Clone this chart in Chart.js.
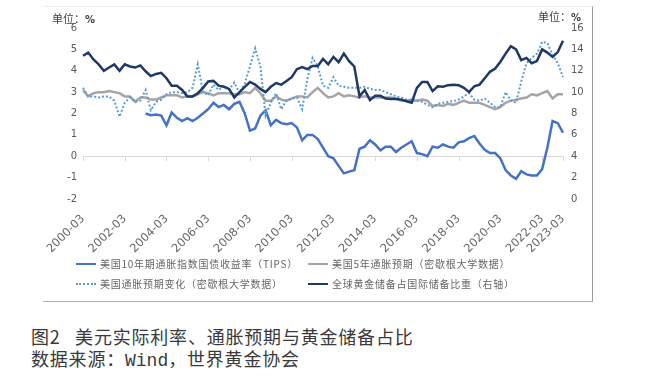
<!DOCTYPE html>
<html>
<head>
<meta charset="utf-8">
<script src="https://cdn.jsdelivr.net/npm/chart.js@4/dist/chart.umd.min.js"></script>
<style>
  html, body { margin: 0; padding: 0; background: #fff; }
  body { width: 646px; height: 383px; position: relative; overflow: hidden; font-family: "Noto Sans CJK SC", sans-serif; }
  #frame { position: absolute; left: 43px; top: 6px; width: 550px; height: 296px;
           border-top: 1px solid #ececec; border-right: 1px solid #9a9a9a; border-bottom: 1px solid #b0b0b0; box-sizing: border-box; }
  #c { position: absolute; left: 43px; top: 6px; }
  .unit { position: absolute; font-size: 11px; color: #404040; white-space: nowrap; }
  .unit b { font-family: "DejaVu Sans", sans-serif; font-weight: bold; font-size: 10px; }
  .lg { position: absolute; font-size: 10px; letter-spacing: 0.75px; color: #666; white-space: nowrap; line-height: 12px; }
  .sw { position: absolute; width: 20px; height: 0; }
  .cap { position: absolute; left: 31px; font-size: 18px; color: #3a3a3a; white-space: nowrap; letter-spacing: 0.8px; line-height: 22px; }
  .mono { font-family: "Liberation Mono", monospace; letter-spacing: 0; }
</style>
</head>
<body>
<div id="frame"></div>
<canvas id="c" width="550" height="296"></canvas>
<div class="unit" style="left:52px; top:10px;">单位：<b>%</b></div>
<div class="unit" style="left:538px; top:8px;">单位：<b>%</b></div>
<div id="legend"></div>
<div class="cap" style="top:325px;">图2&nbsp;&nbsp;&nbsp;美元实际利率、通胀预期与黄金储备占比</div>
<div class="cap" style="top:347px;">数据来源：<span class="mono">Wind</span>，世界黄金协会</div>
<script>
// ---- categories (quarter-end months, 2000-03 ... 2023-03) ----
const years = [2000,2001,2002,2003,2004,2005,2006,2007,2008,2009,2010,2011,2012,2013,2014,2015,2016,2017,2018,2019,2020,2021,2022,2023];
const months = ["03","06","09","12"];
const categories = [];
years.forEach(y => months.forEach(m => { if (!(y === 2023 && m !== "03")) categories.push(y + "-" + m); }));

// ---- series ----
const seriesNames = [
  "美国10年期通胀指数国债收益率（TIPS）",
  "美国5年通胀预期（密歇根大学数据）",
  "美国通胀预期变化（密歇根大学数据）",
  "全球黄金储备占国际储备比重（右轴）"
];

// US 10Y TIPS yield, % (left axis), starts 2003-03
const tips = [null,null,null,null,null,null,null,null,null,null,null,null,
  2.0,1.92,1.95,1.9,1.45,2.05,1.8,1.65,1.78,1.65,1.8,2.0,
  2.2,2.5,2.3,2.4,2.2,2.45,2.55,2.0,1.2,1.3,1.9,2.15,
  1.45,1.7,1.55,1.5,1.55,1.35,0.75,1.0,1.0,0.8,0.4,0.0,
  -0.1,-0.45,-0.8,-0.72,-0.65,0.35,0.45,0.75,0.55,0.28,0.45,0.45,
  0.2,0.4,0.55,0.7,0.15,0.1,0.0,0.45,0.4,0.55,0.45,0.4,
  0.65,0.7,0.85,0.95,0.6,0.3,0.15,0.15,-0.1,-0.65,-0.9,-1.05,
  -0.7,-0.85,-0.9,-0.9,-0.6,0.4,1.65,1.55,1.1];

// US 5Y inflation expectation (Michigan), % (left axis)
const infl5y = [3.1,2.8,2.95,3.0,3.0,3.05,3.0,2.95,2.8,2.8,2.55,2.75,
  2.75,2.65,2.65,2.75,2.85,2.85,2.85,2.75,2.8,2.8,2.9,3.0,
  2.95,2.85,2.95,2.95,2.95,2.9,2.9,3.0,2.95,3.2,2.95,2.6,
  2.6,2.8,2.65,2.6,2.7,2.8,2.8,2.75,3.0,3.2,2.95,2.75,
  2.8,2.95,2.8,2.85,2.8,2.75,2.8,2.75,2.75,2.75,2.75,2.75,
  2.7,2.6,2.6,2.65,2.6,2.65,2.6,2.35,2.4,2.35,2.45,2.4,
  2.5,2.6,2.5,2.5,2.5,2.4,2.3,2.2,2.3,2.5,2.6,2.65,
  2.7,2.75,2.9,2.85,2.95,3.05,2.7,2.9,2.9];

// US inflation expectation change (Michigan), % (left axis)
const inflChange = [3.2,2.8,2.8,2.75,2.8,2.8,2.6,1.85,2.5,2.75,2.55,2.6,
  3.1,2.15,2.55,2.65,2.9,3.0,3.0,2.95,3.0,3.2,4.3,3.0,
  2.85,3.35,3.1,3.3,3.1,3.45,2.95,3.4,4.2,5.05,4.2,1.9,
  2.5,2.95,2.2,2.6,2.7,2.75,2.2,3.6,4.6,4.2,3.3,3.2,
  3.7,3.3,3.25,3.2,3.2,3.2,3.25,3.15,3.1,3.1,3.0,2.9,
  2.8,2.75,2.65,2.6,2.6,2.55,2.4,2.3,2.45,2.5,2.55,2.58,
  2.65,2.8,2.95,2.65,2.6,2.7,2.5,2.3,2.3,3.0,2.6,2.5,
  3.5,4.35,4.6,4.8,5.35,5.3,4.75,4.35,3.7];

// Gold share of global reserves, % (right axis)
const goldShare = [13.4,13.7,13.05,12.6,12.0,12.3,12.6,12.0,12.6,12.4,12.3,12.5,
  11.95,11.5,11.7,11.8,11.3,10.6,10.6,10.2,9.6,9.6,9.9,10.4,
  11.0,11.05,10.6,10.5,10.3,9.5,10.0,10.5,10.95,10.7,10.3,10.0,
  10.5,10.85,10.7,11.05,11.4,12.15,12.35,12.15,12.45,12.45,13.1,12.6,
  13.3,12.8,13.6,12.9,12.4,9.6,10.2,9.25,9.65,9.65,9.4,9.35,
  9.35,9.3,9.15,9.0,10.4,10.95,10.95,10.1,10.55,10.5,10.65,10.7,
  10.65,10.4,10.0,10.55,10.7,11.3,11.9,12.2,12.85,13.6,14.3,14.0,
  13.0,13.2,12.7,12.9,14.0,13.7,13.3,13.75,14.8];

const leftTicks = { min: -2, max: 6, step: 1 };
const rightTicks = { min: 0, max: 16, step: 2 };
const labelEvery = 8;

const colors = ["#4472C4", "#A5A5A5", "#5B9BD5", "#1F3864"];

// ---- legend (HTML) ----
const legendPos = [[76, 258], [308, 258], [76, 278], [308, 278]];
const lgEl = document.getElementById("legend");
seriesNames.forEach((name, k) => {
  const [lx, ly] = legendPos[k];
  const sw = document.createElement("div");
  sw.className = "sw";
  sw.style.left = lx + "px";
  sw.style.top = (ly + 5) + "px";
  sw.style.borderTop = (k === 2 ? "2px dotted " : "2px solid ") + colors[k];
  lgEl.appendChild(sw);
  const t = document.createElement("div");
  t.className = "lg";
  t.style.left = (lx + 24) + "px";
  t.style.top = ly + "px";
  t.textContent = name;
  lgEl.appendChild(t);
});

const zeroTicks = {
  id: "zeroTicks",
  beforeDatasetsDraw(chart) {
    const { ctx, scales: { x, y } } = chart;
    const y0 = y.getPixelForValue(0);
    ctx.save();
    ctx.strokeStyle = "#D9D9D9";
    ctx.lineWidth = 1;
    categories.forEach((c, i) => {
      if (i % labelEvery === 0 || i === categories.length - 1) {
        const px = Math.round(x.getPixelForValue(i)) + 0.5;
        ctx.beginPath();
        ctx.moveTo(px, y0);
        ctx.lineTo(px, y0 + 5);
        ctx.stroke();
      }
    });
    ctx.restore();
  }
};

new Chart(document.getElementById("c"), {
  type: "line",
  data: {
    labels: categories,
    datasets: [
      { label: seriesNames[0], data: tips, yAxisID: "y", borderColor: colors[0], borderWidth: 2.5, order: 2 },
      { label: seriesNames[1], data: infl5y, yAxisID: "y", borderColor: colors[1], borderWidth: 2.5, order: 3 },
      { label: seriesNames[2], data: inflChange, yAxisID: "y", borderColor: colors[2], borderWidth: 2, borderDash: [2, 2], order: 1 },
      { label: seriesNames[3], data: goldShare, yAxisID: "y2", borderColor: colors[3], borderWidth: 2.5, order: 0 }
    ]
  },
  options: {
    responsive: false,
    animation: false,
    devicePixelRatio: 1,
    layout: { padding: { left: 0, right: 0, top: 22, bottom: 0 } },
    elements: { point: { radius: 0 }, line: { tension: 0, fill: false } },
    plugins: { legend: { display: false }, tooltip: { enabled: false } },
    scales: {
      x: {
        type: "category",
        offset: false,
        grid: { display: false, drawTicks: false },
        border: { display: false },
        ticks: {
          autoSkip: false, maxRotation: 45, minRotation: 45, padding: 13,
          color: "#666", font: { family: "DejaVu Sans", size: 11.5 },
          callback: (v, i) => (i % labelEvery === 0 || i === categories.length - 1) ? categories[i] : null
        },
        afterFit: s => { s.height = 103; s.paddingLeft = 0; s.paddingRight = 0; }
      },
      y: {
        position: "left",
        min: leftTicks.min, max: leftTicks.max,
        border: { display: false },
        grid: { drawTicks: false, color: c => (c.tick && c.tick.value === 0) ? "#D9D9D9" : "rgba(0,0,0,0)" },
        ticks: { stepSize: leftTicks.step, padding: 6, color: "#595959", font: { family: "DejaVu Sans", size: 10 } },
        afterFit: s => { s.width = 40; }
      },
      y2: {
        position: "right",
        min: rightTicks.min, max: rightTicks.max,
        border: { display: false },
        grid: { display: false, drawTicks: false },
        ticks: { stepSize: rightTicks.step, padding: 8, color: "#595959", font: { family: "DejaVu Sans", size: 10 } },
        afterFit: s => { s.width = 30; }
      }
    }
  },
  plugins: [zeroTicks]
});
</script>
</body>
</html>
